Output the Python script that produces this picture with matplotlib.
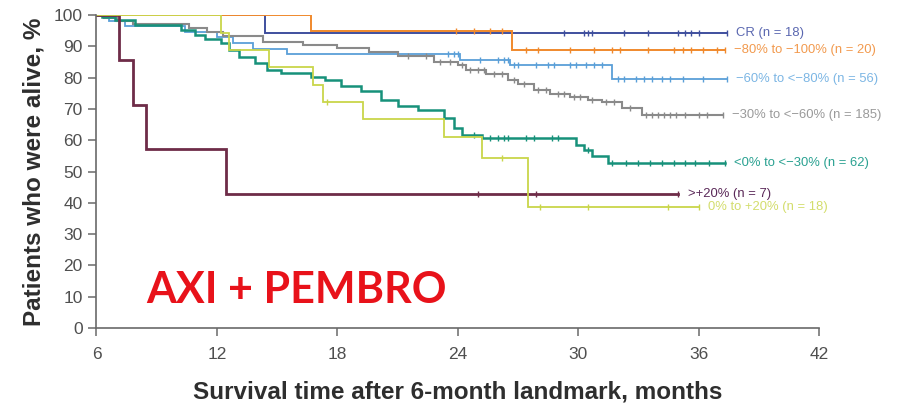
import matplotlib as mpl
import matplotlib.pyplot as plt

# Kaplan-Meier steps (months, % alive) per tumour-shrinkage group
cr_t = [6, 14.4, 37.4]
cr_s = [100, 94.4, 94.4]
cr_cens = [29.3, 30.3, 30.5, 30.7, 32.3, 33.5, 35.0, 35.3, 35.6, 36.0, 37.4]

deep_t = [6, 16.7, 26.7, 37.3]
deep_s = [100, 95.0, 88.7, 88.7]
deep_cens = [23.9, 24.8, 25.6, 26.2, 27.4, 28.0, 29.6, 30.8, 31.7, 32.1,
             33.5, 34.8, 35.2, 35.6, 36.2, 36.9, 37.3]

mid_t = [6, 6.6, 7.4, 10.4, 12.0, 12.8, 13.8, 15.5, 24.1, 26.6, 31.7, 37.4]
mid_s = [100, 98.2, 96.4, 94.6, 92.9, 91.1, 89.3, 87.5, 85.7, 84.0, 79.5, 79.5]
mid_cens = [23.5, 23.8, 24.0, 25.1, 26.0, 26.3, 26.5, 26.8, 27.0, 27.9, 28.5,
            28.8, 29.6, 29.9, 30.4, 30.8, 31.2, 32.0, 32.3, 32.9, 33.3, 33.7,
            34.2, 34.6, 35.2, 36.2, 37.4]

part_t = [6, 6.4, 7.0, 7.8, 10.6, 11.5, 12.3, 14.3, 16.3, 18.0, 19.6, 21.0,
          22.8, 24.0, 24.4, 25.4, 26.5, 27.0, 27.8, 28.6, 29.6, 30.5, 31.2,
          32.2, 33.2, 37.2]
part_s = [100, 99, 98, 97, 96, 94.5, 93.2, 91.5, 90.4, 89.5, 88.3, 87, 85.1,
          84, 82.4, 81.3, 79.2, 78, 76, 74.8, 73.9, 72.8, 72.3, 70.3, 68, 68]
part_cens = [21.5, 22.4, 23.1, 23.6, 24.2, 24.6, 25.0, 25.3, 25.8, 26.2,
             26.8, 27.3, 28.0, 28.4, 29.0, 29.3, 29.8, 30.1, 30.7, 31.4, 31.8,
             32.6, 33.4, 33.7, 34.0, 34.3, 34.6, 34.9, 35.3, 36.0, 36.4, 37.2]

small_t = [6, 6.3, 6.9, 7.9, 10.2, 10.9, 11.4, 12.2, 12.6, 13.1, 13.9, 14.5,
           15.2, 16.7, 17.4, 18.2, 19.2, 20.2, 21.0, 22.0, 23.3, 23.8, 24.2,
           25.2, 29.9, 30.3, 30.7, 31.5, 37.3]
small_s = [100, 99.5, 98.4, 96.8, 95.2, 93.6, 92.5, 91.0, 88.8, 86.7, 84.6,
           82.3, 81.4, 80.3, 79.2, 77.4, 75.8, 72.8, 71.1, 69.6, 67.0, 64.0,
           61.8, 60.6, 58.6, 56.8, 55.0, 52.7, 52.7]
small_cens = [24.8, 25.6, 26.0, 26.3, 26.5, 27.4, 27.8, 28.7, 29.0, 30.5,
              31.7, 32.4, 33.0, 33.6, 34.2, 34.8, 35.3, 35.8, 36.5, 37.3]

grow_t = [6, 7.14, 7.8, 8.45, 12.44, 35.0]
grow_s = [100, 85.7, 71.4, 57.1, 42.9, 42.9]
grow_cens = [25.0, 27.9, 35.0]

slight_t = [6, 12.2, 12.6, 14.6, 16.8, 17.3, 19.3, 23.3, 25.2, 27.5, 36.0]
slight_s = [100, 94.4, 88.9, 83.3, 77.8, 72.2, 66.7, 61.1, 54.4, 38.8, 38.8]
slight_cens = [17.5, 26.2, 28.1, 30.5, 34.5, 36.0]

labels = ["CR (n = 18)", "\u221280% to \u2212100% (n = 20)",
          "\u221260% to <\u221280% (n = 56)", "\u221230% to <\u221260% (n = 185)",
          "<0% to <\u221230% (n = 62)", ">+20% (n = 7)", "0% to +20% (n = 18)"]

groups = [
    (cr_t, cr_s, cr_cens, "#3f4f9e", "#5a67b0", 1.4),
    (deep_t, deep_s, deep_cens, "#f0892c", "#f29a4e", 1.4),
    (mid_t, mid_s, mid_cens, "#5a9fd8", "#7cb6e4", 1.3),
    (part_t, part_s, part_cens, "#8a8a8a", "#9a9a9a", 1.5),
    (small_t, small_s, small_cens, "#17917a", "#2aa191", 1.8),
    (grow_t, grow_s, grow_cens, "#6e2c48", "#5a2858", 2.0),
    (slight_t, slight_s, slight_cens, "#c9d64a", "#d3dd6c", 1.3),
]

mpl.rcParams['font.family'] = ['Liberation Sans', 'DejaVu Sans']

fig = plt.figure(figsize=(8.99, 4.08), dpi=100)
ax = fig.add_axes([0.1073, 0.196, 0.8037, 0.767])

for (t, s, cens, col, lcol, lw), lab in zip(groups, labels):
    ax.step(t, s, where='post', color=col, lw=lw, solid_joinstyle='miter')
    # censored patients as small vertical ticks on the curve
    cy = []
    for c in cens:
        k = max(i for i in range(len(t)) if t[i] <= c)
        cy.append(s[k])
    ax.plot(cens, cy, ls='none', marker='|', ms=5, mew=1.0, color=col)
    ax.text(t[-1] + 0.45, s[-1], lab, color=lcol, fontsize=9.4,
            va='center', ha='left')

ax.text(8.5, 12.0, "AXI + PEMBRO", color="#e8121a", fontsize=31,
        fontweight='bold', family=['Lato', 'DejaVu Sans'],
        va='center', ha='left')

ax.set_xlim(6, 42)
ax.set_ylim(0, 100)
ax.set_xticks([6, 12, 18, 24, 30, 36, 42])
ax.set_yticks(range(0, 101, 10))
for side in ['top', 'right']:
    ax.spines[side].set_visible(False)
for side in ['left', 'bottom']:
    ax.spines[side].set_color('#6a6a6a')
    ax.spines[side].set_linewidth(1.2)
ax.tick_params(direction='out', length=6, width=1.1, color='#6a6a6a',
               labelcolor='#4f4f4f', labelsize=12.5)
ax.tick_params(axis='x', pad=8)
ax.tick_params(axis='y', pad=4)
ax.set_xlabel("Survival time after 6-month landmark, months", fontsize=17.5,
              fontweight='bold', color='#2e2e2e', labelpad=13)
ax.set_ylabel("Patients who were alive, %", fontsize=17.5,
              fontweight='bold', color='#2e2e2e', labelpad=6)

plt.savefig("out.png", dpi=100)
